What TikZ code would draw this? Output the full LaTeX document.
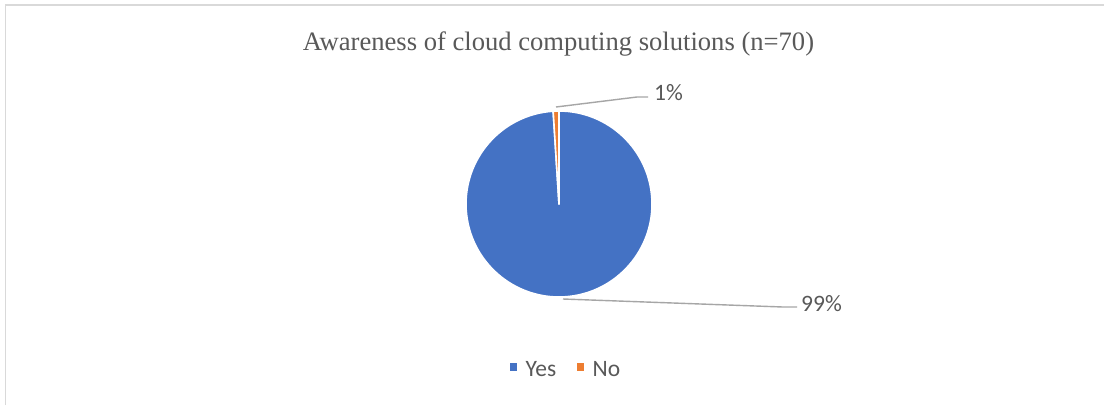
\documentclass[tikz,border=0pt]{standalone}
\usepackage{fontspec}
\setmainfont{Liberation Serif}
\newfontfamily\calib{Carlito}
\usetikzlibrary{calc}
\definecolor{yesblue}{HTML}{4472C4}
\definecolor{noorange}{HTML}{ED7D31}
\definecolor{txtgray}{HTML}{595959}
\definecolor{leadgray}{HTML}{A6A6A6}
\definecolor{framegray}{HTML}{D9D9D9}
\tikzset{
  lbl/.style={font=\calib\fontsize{23.5}{26}\selectfont, text=txtgray, inner sep=0pt},
  leader/.style={draw=leadgray, line width=1.4pt},
  slice/.style={draw=white, line width=1.6pt, line join=round},
  legsq/.style={inner sep=0pt, minimum width=7pt, minimum height=8pt}
}
\begin{document}
\begin{tikzpicture}[x=1pt,y=-1pt]
\useasboundingbox (0,0) rectangle (1104,405);
\fill[white] (0,0) rectangle (1104,405);
% frame
\draw[framegray, line width=1.6pt] (5.5,405) -- (5.5,5) -- (1104,5);
% title
\node[font=\fontsize{26.6}{30}\selectfont, text=txtgray, anchor=base, inner sep=0pt] (title) at (558.5,50) {Awareness of cloud computing solutions (n=70)};
% pie
\coordinate (c) at (559,204);
\fill[yesblue] (c) -- ($(c)+(-93.6:93)$) arc[start angle=-93.6, end angle=-450, radius=93] -- cycle;
\draw[slice] (c) -- ($(c)+(-93.6:93)$) arc[start angle=-93.6, end angle=-450, radius=93] -- cycle;
\fill[noorange] (c) -- ($(c)+(-90:93)$) arc[start angle=-90, end angle=-93.6, radius=93] -- cycle;
\draw[slice] (c) -- ($(c)+(-90:93)$) arc[start angle=-90, end angle=-93.6, radius=93] -- cycle;
% labels
\node[lbl, anchor=west] (l1) at (654,93) {1\%};
\node[lbl, anchor=west] (l99) at (801,304) {99\%};
\coordinate (p1) at (556,107);
\coordinate (k1) at (637,97);
\coordinate (e1) at ($(l1.west)+(-6,0)$);
\coordinate (p99) at (563,299);
\coordinate (k99) at (783,307);
\coordinate (e99) at ($(l99.west)+(-4,0)$);
\draw[leader] (p1) -- (k1) -- (e1 |- k1);
\draw[leader] (p99) -- (k99) -- (e99 |- k99);
% legend
\node[legsq, fill=yesblue] (sqyes) at (513.5,367) {};
\node[lbl, anchor=base west] (tyes) at (525.5,376) {Yes};
\node[legsq, fill=noorange] (sqno) at (580.5,367) {};
\node[lbl, anchor=base west] (tno) at (592.5,376) {No};
\end{tikzpicture}
\end{document}
